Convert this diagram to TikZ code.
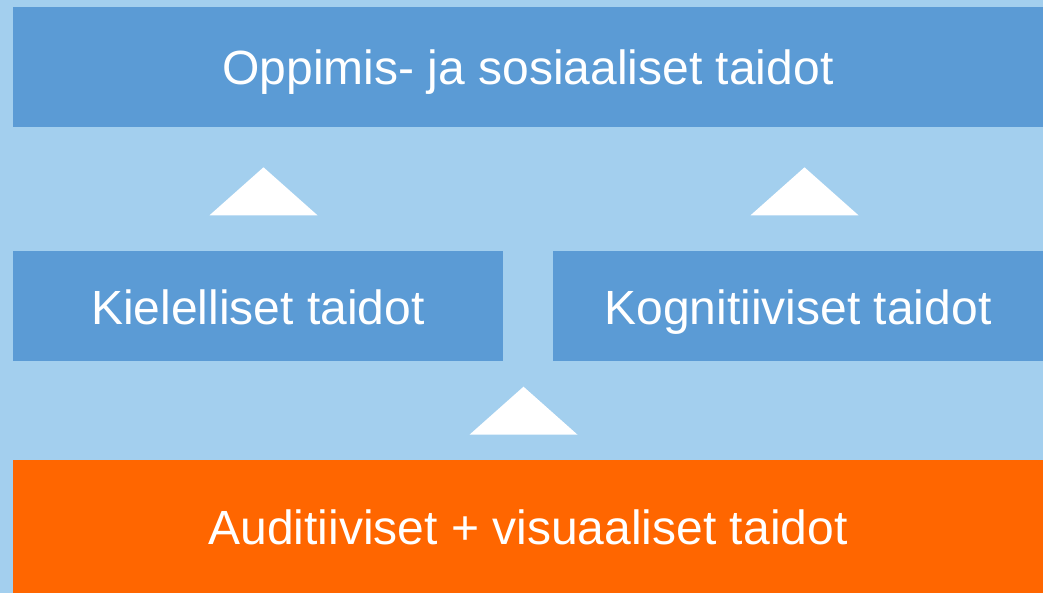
\documentclass[tikz,border=0pt]{standalone}
\usepackage{fontspec}
\setmainfont{Liberation Sans}
\definecolor{pale blue}{HTML}{A3CFEE}
\definecolor{mid blue}{HTML}{5B9BD5}
\definecolor{deep orange}{HTML}{FF6600}

\begin{document}
\begin{tikzpicture}[x=1pt, y=-1pt, skill node/.style={rectangle, fill=mid blue, text=white, inner sep=0pt, text height=36pt, text depth=0pt, font=\fontsize{48}{57}\selectfont}, wide node/.style={skill node, minimum width=1030pt}, half node/.style={skill node, minimum width=490pt, minimum height=109pt}, base node/.style={wide node, fill=deep orange, minimum height=133pt}]
\useasboundingbox (0,0) rectangle (1043,593);
\fill[pale blue] (0,0) rectangle (1043,593);
\node[wide node, minimum height=120pt](social) at (528,67) {Oppimis- ja sosiaaliset taidot};
\node[half node](lang) at (258,306) {Kielelliset taidot};
\node[half node](cogn) at (798,306) {Kognitiiviset taidot};
\node[base node](senses) at (528,526.5) {Auditiiviset + visuaaliset taidot};
\foreach \x/\y in {263.5/167.3, 804.5/167.3, 523.5/386.7}{
    \fill[white] (\x,\y) -- ++(54,48) -- ++(-108,0) -- cycle;}
\end{tikzpicture}
\end{document}
